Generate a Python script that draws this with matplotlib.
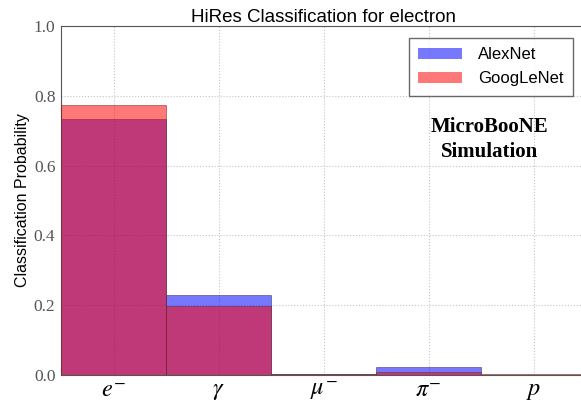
import numpy as np
import matplotlib
matplotlib.use("Agg")
import matplotlib.pyplot as plt

plt.rcParams["mathtext.fontset"] = "stix"

particles = [r"$e^{-}$", r"$\gamma$", r"$\mu^{-}$", r"$\pi^{-}$", r"$p$"]
alexnet = [0.734, 0.229, 0.004, 0.024, 0.001]
googlenet = [0.774, 0.198, 0.003, 0.010, 0.002]

x = np.arange(len(particles))

fig = plt.figure(figsize=(5.81, 4.05), dpi=100)
ax = fig.add_axes([0.105, 0.074, 0.904, 0.862])

ax.bar(x, alexnet, width=1.0, color="blue", alpha=0.53, edgecolor="#303060",
       linewidth=0.7, label="AlexNet", zorder=2)
ax.bar(x, googlenet, width=1.0, color="red", alpha=0.53, edgecolor="#603030",
       linewidth=0.7, label="GoogLeNet", zorder=3)

ax.set_xlim(-0.5, 4.5)
ax.set_ylim(0, 1.0)
ax.set_xticks(x)
ax.set_xticklabels(particles, fontsize=17.5)
ax.set_yticks([0.0, 0.2, 0.4, 0.6, 0.8, 1.0])
ax.set_yticklabels(["0.0", "0.2", "0.4", "0.6", "0.8", "1.0"],
                   family="Liberation Serif", fontsize=12.5, color="#555555")
ax.tick_params(axis="y", length=0, pad=4)
ax.tick_params(axis="x", length=0, pad=2)
ax.grid(True, color="#c4c4c4", linestyle=":", linewidth=0.8, zorder=0)
ax.set_axisbelow(True)
for s in ax.spines.values():
    s.set_color("#555555")

ax.set_title("HiRes Classification for electron", fontsize=13.5, pad=3,
             family="Liberation Sans")
ax.set_ylabel("Classification Probability", fontsize=11.5, family="Liberation Sans",
              labelpad=3)

handles = [plt.Rectangle((0, 0), 1, 1, color="blue", alpha=0.53, lw=0),
           plt.Rectangle((0, 0), 1, 1, color="red", alpha=0.53, lw=0)]
leg = fig.legend(handles, ["AlexNet", "GoogLeNet"], loc="upper right",
                 bbox_to_anchor=(0.986, 0.906), borderaxespad=0,
                 prop={"family": "Liberation Sans", "size": 12},
                 fancybox=False, edgecolor="#444444", handlelength=2.6, borderpad=0.55,
                 labelspacing=0.55, handletextpad=1.0)
leg.get_frame().set_linewidth(1.0)

fig.text(0.843, 0.655, "MicroBooNE\nSimulation", ha="center", va="center",
         family="Liberation Serif", fontweight="bold", fontsize=15, linespacing=1.35)

fig.savefig("out.png", dpi=100)
